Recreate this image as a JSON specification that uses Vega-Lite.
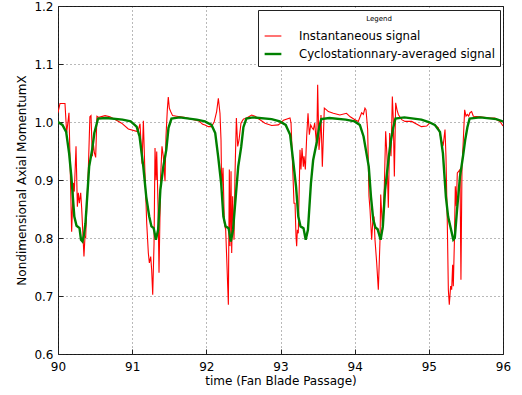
{
  "$schema": "https://vega.github.io/schema/vega-lite/v6.json",
  "width": 445,
  "height": 348,
  "autosize": "none",
  "padding": {"left": 58, "top": 6, "right": 19, "bottom": 41},
  "background": "white",
  "config": {
    "font": "DejaVu Sans",
    "view": {"stroke": "#222", "strokeWidth": 1},
    "axis": {
      "labelFont": "DejaVu Sans", "labelFontSize": 12, "labelColor": "#000", "labelFlush": false,
      "titleFont": "DejaVu Sans", "titleFontSize": 12, "titleFontWeight": "normal", "titleColor": "#000",
      "grid": true, "gridColor": "#000", "gridDash": [1, 3], "gridOpacity": 0.55,
      "domain": false, "tickColor": "#222", "tickSize": -5, "labelPadding": 10
    },
    "legend": {
      "orient": "none", "legendX": 200, "legendY": 4, "titleFontSize": 7,
      "titleAnchor": "middle", "titleFontWeight": "normal", "titleFont": "DejaVu Sans", "titleColor": "#000",
      "labelFontSize": 11.7, "labelFont": "DejaVu Sans", "labelColor": "#000",
      "strokeColor": "#222", "fillColor": "white", "padding": 5, "symbolType": "stroke", "symbolSize": 280,
      "labelOffset": 16, "rowPadding": 1, "labelLimit": 400, "titlePadding": 5
    }
  },
  "datasets": {
    "red": [
      {"t": 90.0, "v": 1.016}, {"t": 90.027, "v": 1.032}, {"t": 90.094, "v": 1.032}, {"t": 90.117, "v": 0.981},
      {"t": 90.148, "v": 1.016}, {"t": 90.184, "v": 0.811}, {"t": 90.207, "v": 0.895}, {"t": 90.22, "v": 0.88},
      {"t": 90.243, "v": 0.958}, {"t": 90.261, "v": 0.854}, {"t": 90.274, "v": 0.878}, {"t": 90.288, "v": 0.86},
      {"t": 90.306, "v": 0.878}, {"t": 90.319, "v": 0.852}, {"t": 90.333, "v": 0.814}, {"t": 90.35, "v": 0.768},
      {"t": 90.364, "v": 0.803}, {"t": 90.373, "v": 0.8}, {"t": 90.391, "v": 0.866}, {"t": 90.409, "v": 0.918},
      {"t": 90.43, "v": 1.009}, {"t": 90.445, "v": 1.011}, {"t": 90.463, "v": 0.941}, {"t": 90.476, "v": 0.964},
      {"t": 90.49, "v": 0.947}, {"t": 90.508, "v": 0.939}, {"t": 90.525, "v": 1.01}, {"t": 90.55, "v": 1.008},
      {"t": 90.634, "v": 1.011}, {"t": 90.7, "v": 1.009}, {"t": 90.8, "v": 1.002}, {"t": 90.858, "v": 0.998},
      {"t": 90.948, "v": 0.988}, {"t": 91.06, "v": 0.984},
      {"t": 91.083, "v": 0.986}, {"t": 91.106, "v": 0.997}, {"t": 91.133, "v": 0.928}, {"t": 91.151, "v": 1.002},
      {"t": 91.169, "v": 0.925}, {"t": 91.196, "v": 0.826}, {"t": 91.218, "v": 0.774}, {"t": 91.232, "v": 0.757},
      {"t": 91.25, "v": 0.768}, {"t": 91.263, "v": 0.745}, {"t": 91.277, "v": 0.702}, {"t": 91.295, "v": 0.791},
      {"t": 91.308, "v": 0.955}, {"t": 91.322, "v": 0.9}, {"t": 91.331, "v": 0.949}, {"t": 91.349, "v": 0.855},
      {"t": 91.362, "v": 0.74}, {"t": 91.384, "v": 0.906}, {"t": 91.402, "v": 0.958}, {"t": 91.42, "v": 0.941},
      {"t": 91.443, "v": 0.898}, {"t": 91.456, "v": 0.975}, {"t": 91.474, "v": 1.021}, {"t": 91.487, "v": 1.043},
      {"t": 91.501, "v": 1.024}, {"t": 91.519, "v": 1.018}, {"t": 91.545, "v": 1.011}, {"t": 91.6, "v": 1.01},
      {"t": 91.7, "v": 1.008}, {"t": 91.8, "v": 1.005}, {"t": 91.9, "v": 1.002}, {"t": 91.95, "v": 0.996},
      {"t": 91.982, "v": 0.995},
      {"t": 92.027, "v": 0.992}, {"t": 92.072, "v": 0.992}, {"t": 92.108, "v": 1.001}, {"t": 92.139, "v": 1.018},
      {"t": 92.162, "v": 1.041}, {"t": 92.184, "v": 1.015}, {"t": 92.198, "v": 0.969}, {"t": 92.207, "v": 0.885},
      {"t": 92.225, "v": 0.921}, {"t": 92.243, "v": 0.826}, {"t": 92.261, "v": 0.814}, {"t": 92.274, "v": 0.768},
      {"t": 92.297, "v": 0.685}, {"t": 92.31, "v": 0.918}, {"t": 92.319, "v": 0.786}, {"t": 92.333, "v": 0.915},
      {"t": 92.342, "v": 0.774}, {"t": 92.355, "v": 0.872}, {"t": 92.373, "v": 0.797}, {"t": 92.387, "v": 0.912},
      {"t": 92.405, "v": 1.007}, {"t": 92.423, "v": 0.958}, {"t": 92.441, "v": 0.969}, {"t": 92.467, "v": 0.998},
      {"t": 92.499, "v": 1.005}, {"t": 92.544, "v": 1.007}, {"t": 92.611, "v": 1.012}, {"t": 92.656, "v": 1.01},
      {"t": 92.791, "v": 0.998}, {"t": 92.881, "v": 0.994}, {"t": 92.971, "v": 0.995},
      {"t": 93.0, "v": 0.998}, {"t": 93.04, "v": 1.003}, {"t": 93.128, "v": 1.007}, {"t": 93.142, "v": 0.998},
      {"t": 93.182, "v": 0.86}, {"t": 93.196, "v": 0.86}, {"t": 93.209, "v": 0.803}, {"t": 93.218, "v": 0.786},
      {"t": 93.227, "v": 0.814}, {"t": 93.24, "v": 0.808}, {"t": 93.263, "v": 0.952}, {"t": 93.276, "v": 0.918},
      {"t": 93.29, "v": 0.955}, {"t": 93.308, "v": 0.923}, {"t": 93.317, "v": 0.941}, {"t": 93.335, "v": 0.918},
      {"t": 93.353, "v": 0.975}, {"t": 93.371, "v": 1.015}, {"t": 93.389, "v": 0.978}, {"t": 93.407, "v": 0.995},
      {"t": 93.425, "v": 0.99}, {"t": 93.443, "v": 0.987}, {"t": 93.461, "v": 0.998}, {"t": 93.488, "v": 0.958},
      {"t": 93.501, "v": 1.064}, {"t": 93.519, "v": 0.952}, {"t": 93.533, "v": 0.975}, {"t": 93.546, "v": 1.012},
      {"t": 93.564, "v": 0.923}, {"t": 93.591, "v": 1.024}, {"t": 93.62, "v": 1.021}, {"t": 93.645, "v": 1.018},
      {"t": 93.712, "v": 1.015}, {"t": 93.8, "v": 1.012}, {"t": 93.89, "v": 1.015}, {"t": 93.94, "v": 1.009},
      {"t": 94.004, "v": 1.004},
      {"t": 94.049, "v": 1.001}, {"t": 94.094, "v": 1.016}, {"t": 94.117, "v": 1.013}, {"t": 94.139, "v": 1.024},
      {"t": 94.153, "v": 1.021}, {"t": 94.175, "v": 0.987}, {"t": 94.193, "v": 0.872}, {"t": 94.207, "v": 0.849},
      {"t": 94.229, "v": 0.797}, {"t": 94.243, "v": 0.826}, {"t": 94.261, "v": 0.837}, {"t": 94.274, "v": 0.797},
      {"t": 94.297, "v": 0.757}, {"t": 94.319, "v": 0.711}, {"t": 94.342, "v": 0.797}, {"t": 94.351, "v": 0.875},
      {"t": 94.364, "v": 0.843}, {"t": 94.377, "v": 0.814}, {"t": 94.4, "v": 0.889}, {"t": 94.418, "v": 0.984},
      {"t": 94.436, "v": 0.941}, {"t": 94.454, "v": 0.852}, {"t": 94.472, "v": 0.981}, {"t": 94.49, "v": 0.941},
      {"t": 94.508, "v": 1.044}, {"t": 94.521, "v": 1.004}, {"t": 94.535, "v": 0.906}, {"t": 94.553, "v": 1.033},
      {"t": 94.571, "v": 1.021}, {"t": 94.589, "v": 1.013}, {"t": 94.634, "v": 1.004}, {"t": 94.679, "v": 1.001},
      {"t": 94.769, "v": 1.001}, {"t": 94.9, "v": 0.992}, {"t": 94.971, "v": 0.993}, {"t": 95.016, "v": 0.999},
      {"t": 95.083, "v": 0.995}, {"t": 95.128, "v": 0.99}, {"t": 95.173, "v": 0.967}, {"t": 95.195, "v": 0.961},
      {"t": 95.218, "v": 0.987}, {"t": 95.231, "v": 0.941}, {"t": 95.249, "v": 0.826}, {"t": 95.263, "v": 0.711},
      {"t": 95.276, "v": 0.685}, {"t": 95.294, "v": 0.717}, {"t": 95.308, "v": 0.711}, {"t": 95.321, "v": 0.754},
      {"t": 95.33, "v": 0.717}, {"t": 95.344, "v": 0.791}, {"t": 95.357, "v": 0.889}, {"t": 95.37, "v": 0.855},
      {"t": 95.384, "v": 0.912}, {"t": 95.402, "v": 0.915}, {"t": 95.42, "v": 0.918}, {"t": 95.433, "v": 0.728},
      {"t": 95.447, "v": 0.923}, {"t": 95.465, "v": 0.969}, {"t": 95.483, "v": 1.021}, {"t": 95.501, "v": 1.01},
      {"t": 95.519, "v": 1.013}, {"t": 95.537, "v": 1.01}, {"t": 95.555, "v": 1.016}, {"t": 95.577, "v": 1.018},
      {"t": 95.6, "v": 1.01}, {"t": 95.69, "v": 1.009}, {"t": 95.825, "v": 1.007}, {"t": 95.892, "v": 1.007},
      {"t": 95.915, "v": 1.004}, {"t": 95.96, "v": 1.001}, {"t": 96.0, "v": 0.993}
    ],
    "green": [
      {"t": 90.0, "v": 1.0}, {"t": 90.06, "v": 0.995}, {"t": 90.11, "v": 0.983}, {"t": 90.15, "v": 0.946},
      {"t": 90.18, "v": 0.906}, {"t": 90.2, "v": 0.871}, {"t": 90.22, "v": 0.837}, {"t": 90.25, "v": 0.821},
      {"t": 90.29, "v": 0.817}, {"t": 90.31, "v": 0.797}, {"t": 90.33, "v": 0.794}, {"t": 90.35, "v": 0.805},
      {"t": 90.37, "v": 0.825}, {"t": 90.4, "v": 0.883}, {"t": 90.42, "v": 0.923}, {"t": 90.46, "v": 0.952},
      {"t": 90.49, "v": 0.981}, {"t": 90.54, "v": 1.006}, {"t": 90.65, "v": 1.007}, {"t": 90.87, "v": 1.004},
      {"t": 90.98, "v": 1.001}, {"t": 91.06, "v": 0.992}, {"t": 91.1, "v": 0.975}, {"t": 91.15, "v": 0.923},
      {"t": 91.19, "v": 0.871}, {"t": 91.23, "v": 0.837}, {"t": 91.26, "v": 0.82}, {"t": 91.29, "v": 0.817},
      {"t": 91.32, "v": 0.797}, {"t": 91.35, "v": 0.814}, {"t": 91.38, "v": 0.883}, {"t": 91.42, "v": 0.923},
      {"t": 91.46, "v": 0.952}, {"t": 91.49, "v": 0.99}, {"t": 91.53, "v": 1.006}, {"t": 91.64, "v": 1.008},
      {"t": 91.87, "v": 1.004}, {"t": 91.98, "v": 1.001}, {"t": 92.07, "v": 0.995}, {"t": 92.12, "v": 0.981},
      {"t": 92.16, "v": 0.94}, {"t": 92.2, "v": 0.894}, {"t": 92.23, "v": 0.837}, {"t": 92.26, "v": 0.82},
      {"t": 92.3, "v": 0.817}, {"t": 92.33, "v": 0.794}, {"t": 92.36, "v": 0.814}, {"t": 92.4, "v": 0.877},
      {"t": 92.43, "v": 0.923}, {"t": 92.47, "v": 0.957}, {"t": 92.5, "v": 0.991}, {"t": 92.54, "v": 1.006},
      {"t": 92.63, "v": 1.008}, {"t": 92.88, "v": 1.005}, {"t": 92.99, "v": 1.001}, {"t": 93.07, "v": 0.995},
      {"t": 93.13, "v": 0.978}, {"t": 93.17, "v": 0.934}, {"t": 93.21, "v": 0.888}, {"t": 93.24, "v": 0.837},
      {"t": 93.27, "v": 0.82}, {"t": 93.31, "v": 0.817}, {"t": 93.34, "v": 0.797}, {"t": 93.37, "v": 0.814},
      {"t": 93.41, "v": 0.894}, {"t": 93.44, "v": 0.934}, {"t": 93.49, "v": 0.966}, {"t": 93.52, "v": 0.99},
      {"t": 93.55, "v": 1.005}, {"t": 93.66, "v": 1.007}, {"t": 93.88, "v": 1.004}, {"t": 94.0, "v": 1.001},
      {"t": 94.07, "v": 0.995}, {"t": 94.12, "v": 0.975}, {"t": 94.19, "v": 0.923}, {"t": 94.22, "v": 0.871},
      {"t": 94.25, "v": 0.832}, {"t": 94.28, "v": 0.818}, {"t": 94.31, "v": 0.815}, {"t": 94.35, "v": 0.797},
      {"t": 94.38, "v": 0.82}, {"t": 94.41, "v": 0.883}, {"t": 94.46, "v": 0.94}, {"t": 94.49, "v": 0.969},
      {"t": 94.52, "v": 0.99}, {"t": 94.55, "v": 1.006}, {"t": 94.67, "v": 1.008}, {"t": 94.9, "v": 1.004},
      {"t": 95.0, "v": 1.0}, {"t": 95.08, "v": 0.995}, {"t": 95.15, "v": 0.983}, {"t": 95.19, "v": 0.946},
      {"t": 95.23, "v": 0.871}, {"t": 95.26, "v": 0.837}, {"t": 95.29, "v": 0.82}, {"t": 95.33, "v": 0.797},
      {"t": 95.35, "v": 0.8}, {"t": 95.38, "v": 0.848}, {"t": 95.42, "v": 0.906}, {"t": 95.46, "v": 0.94},
      {"t": 95.49, "v": 0.969}, {"t": 95.52, "v": 0.991}, {"t": 95.55, "v": 1.006}, {"t": 95.69, "v": 1.008},
      {"t": 95.91, "v": 1.005}, {"t": 96.0, "v": 1.001}
    ]
  },
  "encoding": {
    "x": {"field": "t", "type": "quantitative", "title": "time (Fan Blade Passage)",
      "scale": {"domain": [90, 96], "nice": false, "zero": false},
      "axis": {"values": [90, 91, 92, 93, 94, 95, 96], "format": "d", "labelPadding": 12, "titlePadding": 3}},
    "y": {"field": "v", "type": "quantitative", "title": "Nondimensional Axial MomentumX",
      "scale": {"domain": [0.6, 1.2], "nice": false, "zero": false},
      "axis": {"values": [0.6, 0.7, 0.8, 0.9, 1.0, 1.1, 1.2], "format": ".1f", "labelPadding": 10, "titlePadding": 5}},
    "color": {"field": "signal", "type": "nominal", "title": "Legend",
      "scale": {"domain": ["Instantaneous signal", "Cyclostationnary-averaged signal"], "range": ["#ff0000", "#008000"]}},
    "strokeWidth": {"field": "signal", "type": "nominal", "title": "Legend",
      "scale": {"domain": ["Instantaneous signal", "Cyclostationnary-averaged signal"], "range": [1.1, 2.4]}}
  },
  "layer": [
    {
      "data": {"name": "red"},
      "transform": [{"calculate": "'Instantaneous signal'", "as": "signal"}],
      "mark": {"type": "line", "clip": true}
    },
    {
      "data": {"name": "green"},
      "transform": [{"calculate": "'Cyclostationnary-averaged signal'", "as": "signal"}],
      "mark": {"type": "line", "clip": true}
    }
  ]
}
